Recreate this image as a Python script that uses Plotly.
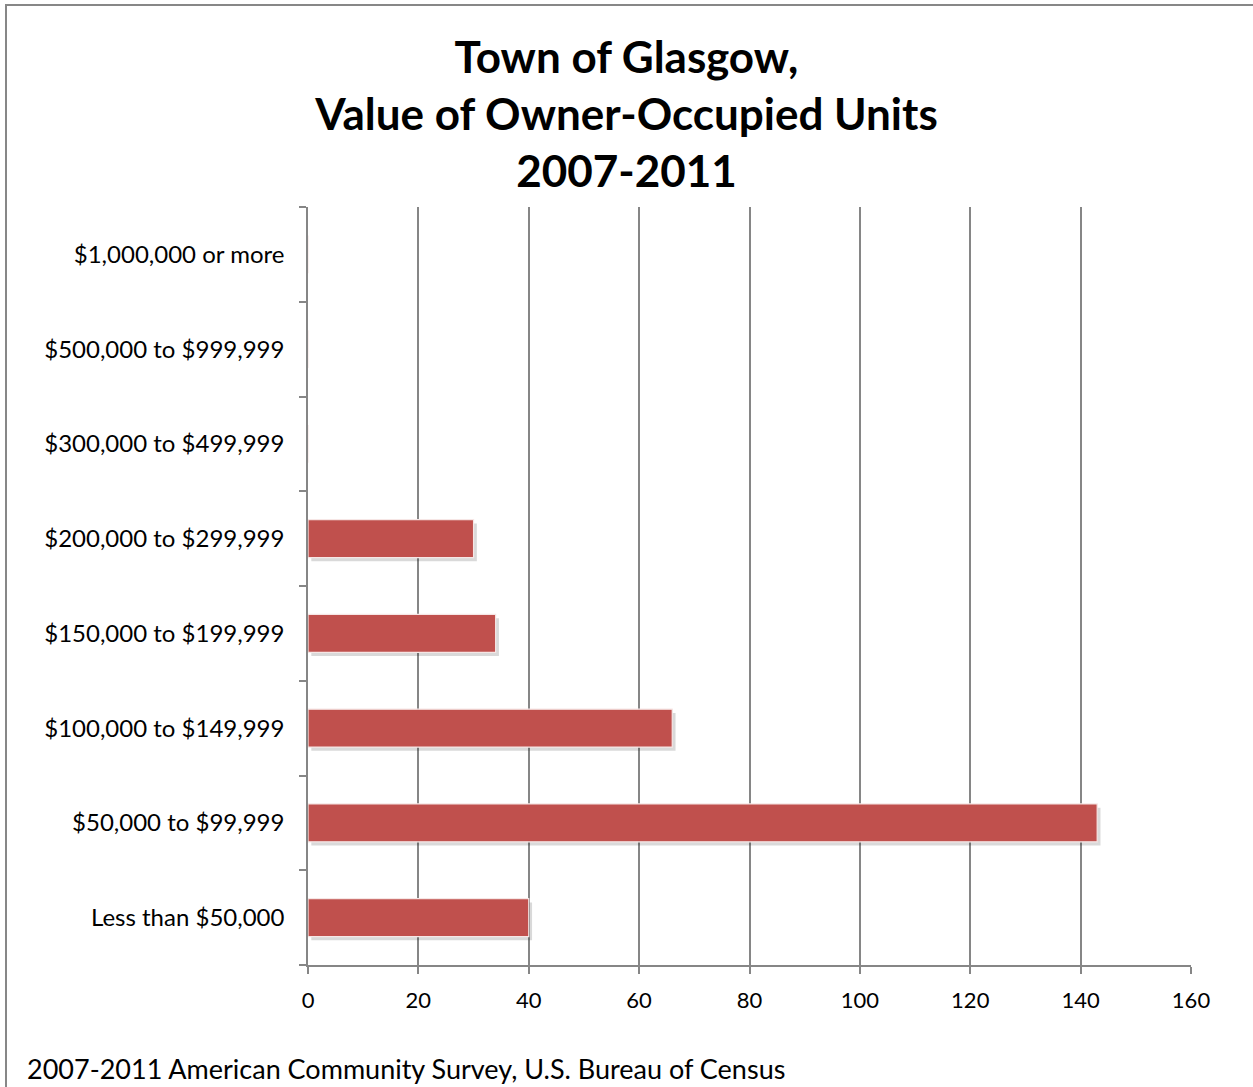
import plotly.graph_objects as go

# Home value brackets (bottom to top) and number of owner-occupied units
categories = [
    "Less than $50,000",
    "$50,000 to $99,999",
    "$100,000 to $149,999",
    "$150,000 to $199,999",
    "$200,000 to $299,999",
    "$300,000 to $499,999",
    "$500,000 to $999,999",
    "$1,000,000 or more",
]
units = [40, 143, 66, 34, 30, 0, 0, 0]
x_ticks = [0, 20, 40, 60, 80, 100, 120, 140, 160]

BAR_RED = "#C0504D"
GRID = "#868686"
FONT = "Lato, Calibri, 'Open Sans', sans-serif"

W, H = 1253, 1087
L, R, T, B = 308, 62, 207, 122
PW, PH = W - L - R, H - T - B

fig = go.Figure()

# soft drop shadow beneath each bar, nudged right and down
fig.add_trace(go.Bar(
    y=categories, x=units, base=0.6, orientation="h", width=0.4, offset=-0.2 - 0.04,
    marker=dict(color="rgba(0,0,0,0.15)", line=dict(width=0)),
    hoverinfo="skip", showlegend=False,
))
fig.add_trace(go.Bar(
    y=categories, x=units, orientation="h", width=0.4, offset=-0.2,
    marker=dict(color=BAR_RED, line=dict(color="#F6E6E5", width=1.2)),
    showlegend=False,
))

fig.update_layout(
    width=W, height=H,
    margin=dict(l=L, r=R, t=T, b=B),
    paper_bgcolor="white", plot_bgcolor="white",
    font=dict(family=FONT, color="black"),
    barmode="overlay",
    title=dict(
        text="<b>Town of Glasgow,<br>Value of Owner-Occupied Units<br>2007-2011</b>",
        x=0.5, xanchor="center", y=1 - 73 / H, yanchor="middle",
        font=dict(size=44, family=FONT, color="black"),
    ),
    xaxis=dict(
        range=[0, 160], tickvals=x_ticks, showgrid=True, gridcolor=GRID, gridwidth=1.5,
        zeroline=False, showline=True, linecolor=GRID, linewidth=1.5,
        ticks="outside", ticklen=7, tickcolor=GRID, tickwidth=1.5,
        tickfont=dict(size=22, family=FONT), ticklabelstandoff=8, fixedrange=True,
    ),
    yaxis=dict(
        type="category", categoryorder="array", categoryarray=categories,
        showline=True, linecolor=GRID, linewidth=1.5,
        ticks="outside", tickson="boundaries", ticklen=7, tickcolor=GRID, tickwidth=1.5,
        tickfont=dict(size=24, family=FONT), ticklabelstandoff=17,
        showgrid=False, range=[-0.5, 7.5],
    ),
)

# chart frame (left and top edges visible, the rest runs off the page)
fig.add_shape(type="rect", xref="paper", yref="paper",
              x0=(6 - L) / PW, x1=(W + 20 - L) / PW,
              y0=-(H + 20 - T - PH) / PH, y1=(H - 5 - B) / PH,
              line=dict(color="#878787", width=2), layer="below")

fig.add_annotation(
    text="2007-2011 American Community Survey, U.S. Bureau of Census",
    xref="paper", yref="paper", x=(25 - L) / PW, y=-(1068 - (T + PH)) / PH,
    xanchor="left", yanchor="middle", showarrow=False,
    font=dict(size=27, family=FONT, color="black"),
)

fig.write_html("out.html")
